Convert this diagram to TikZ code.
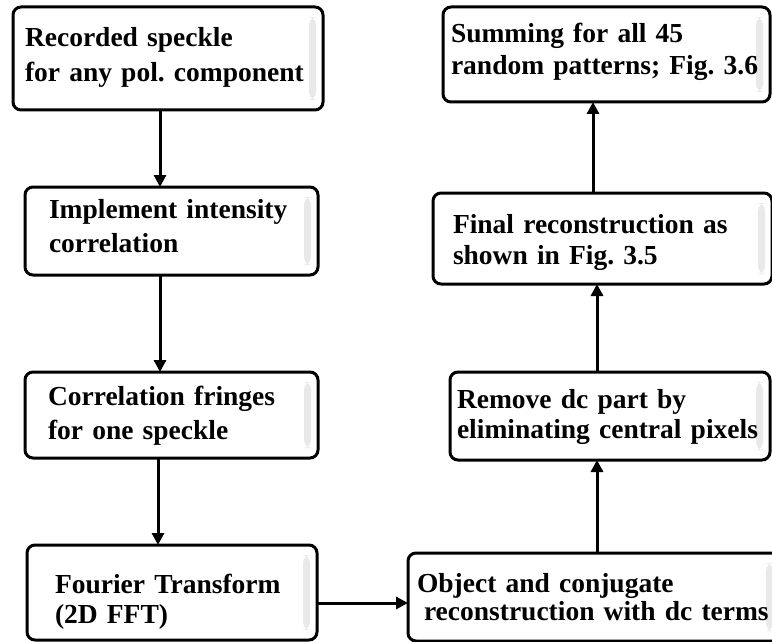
\documentclass[tikz,border=0pt]{standalone}
\usepackage{fontspec}
\setmainfont{Liberation Serif}
\usetikzlibrary{arrows.meta}

\tikzset{
  flowbox/.style n args={3}{draw, line width=3pt, rounded corners=8pt, outer sep=0pt,
    anchor=west, align=left, inner ysep=0pt,
    font=\fontsize{27.5}{#1}\selectfont\bfseries\frenchspacing,
    execute at begin node={\rule{0pt}{#2pt}},
    execute at end node={\rule[-#3pt]{0pt}{#3pt}},
    path picture={\shade[left color=white, right color=black!9]
      ([xshift=-14pt,yshift=-10pt]path picture bounding box.north east) rectangle
      ([xshift=-7pt,yshift=10pt]path picture bounding box.south east);}},
  flowarrow/.style={line width=3pt, -{Triangle[width=12pt,length=12pt]}}
}

\begin{document}
\begin{tikzpicture}[x=1pt,y=-1pt]
	\useasboundingbox (0,0) rectangle (772,642);
	% left column, top to bottom
	\node[flowbox={35}{20}{8}, text width=286pt, inner xsep=12pt, minimum height=103pt] (rec) at (13,58.5) {Recorded speckle\\for any pol. component};
	\node[flowbox={34}{20}{12}, text width=245pt, inner xsep=24pt, minimum height=88pt] (impl) at (25,231) {Implement intensity\\correlation};
	\node[flowbox={34}{21}{7}, text width=247pt, inner xsep=23pt, minimum height=86pt] (corr) at (25,415) {Correlation fringes\\for one speckle};
	\node[flowbox={30}{38}{7}, text width=234pt, inner xsep=28pt, minimum height=95pt] (four) at (27,592.5) {Fourier Transform\\(2D FFT)};
	% right column, bottom to top
	\node[flowbox={28}{25}{7}, text width=354pt, inner xsep=9pt, minimum height=88pt] (obj) at (408,597) {Object and conjugate\\\hspace*{7pt}reconstruction with dc terms};
	\node[flowbox={30}{21}{7}, text width=306pt, inner xsep=7pt, minimum height=88pt] (rem) at (450,416) {Remove dc part by\\eliminating central pixels};
	\node[flowbox={32}{28}{7}, text width=299pt, inner xsep=20pt, minimum height=91pt] (fin) at (433,238.5) {Final reconstruction as\\shown in Fig. 3.5};
	\node[flowbox={32}{20}{11}, text width=311pt, inner xsep=8pt, minimum height=95pt] (sum) at (443,54.5) {Summing for all 45\\random patterns; Fig. 3.6};
	% arrows
	\draw[flowarrow] ([xshift=-8pt]rec.south) -- ([xshift=-8pt]rec.south |- impl.north);
	\draw[flowarrow] ([xshift=-11.5pt]impl.south) -- ([xshift=-11.5pt]impl.south |- corr.north);
	\draw[flowarrow] ([xshift=-13.5pt]corr.south) -- ([xshift=-13.5pt]corr.south |- four.north);
	\draw[flowarrow] ([yshift=-10.5pt]four.east) -- ([yshift=-10.5pt]four.east -| obj.west);
	\draw[flowarrow] ([xshift=3pt]obj.north) -- ([xshift=3pt]obj.north |- rem.south);
	\draw[flowarrow] ([xshift=-13pt]rem.north) -- ([xshift=-13pt]rem.north |- fin.south);
	\draw[flowarrow] ([xshift=-9.5pt]fin.north) -- ([xshift=-9.5pt]fin.north |- sum.south);
\end{tikzpicture}
\end{document}
